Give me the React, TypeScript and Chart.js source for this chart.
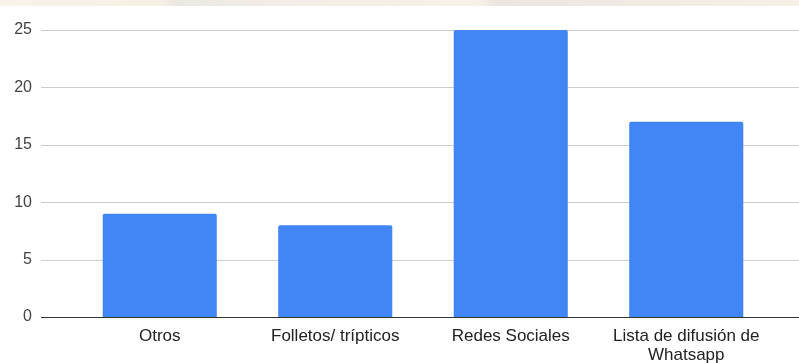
import React, { useEffect, useRef } from "react";
import { Chart, registerables } from "chart.js";

Chart.register(...registerables);

const categories: (string | string[])[] = [
  "Otros",
  "Folletos/ trípticos",
  "Redes Sociales",
  ["Lista de difusión de", "Whatsapp"],
];
const counts: number[] = [9, 8, 25, 17];
const yTicks: number[] = [0, 5, 10, 15, 20, 25];

const BAR_COLOR = "#4285F4";
const FONT = "'Liberation Sans', Arial, sans-serif";

// Horizontal guide lines run across the full width of the canvas,
// wider than the category band, so they are drawn from the y scale here.
const wideGrid = {
  id: "wideGrid",
  beforeDatasetsDraw(chart: any) {
    const { ctx } = chart;
    const y = chart.scales.y;
    ctx.save();
    for (const v of yTicks) {
      const py = Math.round(y.getPixelForValue(v)) + 0.5;
      ctx.beginPath();
      ctx.strokeStyle = v === 0 ? "#333333" : "#cccccc";
      ctx.lineWidth = v === 0 ? 1.2 : 1;
      ctx.moveTo(41, py);
      ctx.lineTo(chart.width, py);
      ctx.stroke();
    }
    ctx.restore();
  },
};

export default function App() {
  const ref = useRef<HTMLCanvasElement>(null);

  useEffect(() => {
    const prevMargin = document.body.style.margin;
    document.body.style.margin = "0";
    const chart = new Chart(ref.current!, {
      type: "bar",
      data: {
        labels: categories,
        datasets: [
          {
            data: counts,
            backgroundColor: BAR_COLOR,
            barPercentage: 0.65,
            categoryPercentage: 1,
            borderRadius: { topLeft: 2, topRight: 2, bottomLeft: 0, bottomRight: 0 },
            borderSkipped: "bottom",
          },
        ],
      },
      options: {
        animation: false,
        responsive: false,
        maintainAspectRatio: false,
        layout: { padding: { top: 30, right: 25, left: 0, bottom: 0 } },
        plugins: {
          legend: { display: false },
          tooltip: { enabled: false },
        },
        scales: {
          x: {
            afterFit(scale: any) {
              scale.height = 46;
            },
            grid: { display: false, drawTicks: false },
            border: { display: false },
            ticks: {
              color: "#222222",
              font: { family: FONT, size: 17, lineHeight: 1.1 },
              padding: 10,
              maxRotation: 0,
              autoSkip: false,
            },
          },
          y: {
            min: 0,
            max: 25,
            afterFit(scale: any) {
              // fixed gutter for the value labels; no extra vertical padding
              scale.width = 72;
              scale.paddingTop = 0;
              scale.paddingBottom = 0;
            },
            afterBuildTicks(scale: any) {
              scale.ticks = yTicks.map((v) => ({ value: v }));
            },
            grid: { display: false, drawTicks: false },
            border: { display: false },
            ticks: {
              color: "#444444",
              font: { family: FONT, size: 16 },
              padding: 40,
            },
          },
        },
      },
      plugins: [wideGrid],
    });
    return () => {
      chart.destroy();
      document.body.style.margin = prevMargin;
    };
  }, []);

  return (
    <div style={{ position: "relative", width: 799, height: 363, background: "#ffffff" }}>
      <div
        style={{
          position: "absolute",
          left: 0,
          top: 0,
          width: 799,
          height: 6,
          background:
            "linear-gradient(90deg, #f8f3ea 0%, #f6efe4 20%, #ece8e4 22%, #f2ede6 35%, #f7f1e8 60%, #ebe6e1 62%, #f6f0e6 100%)",
        }}
      />
      <canvas ref={ref} width={799} height={363} style={{ display: "block" }} />
    </div>
  );
}
